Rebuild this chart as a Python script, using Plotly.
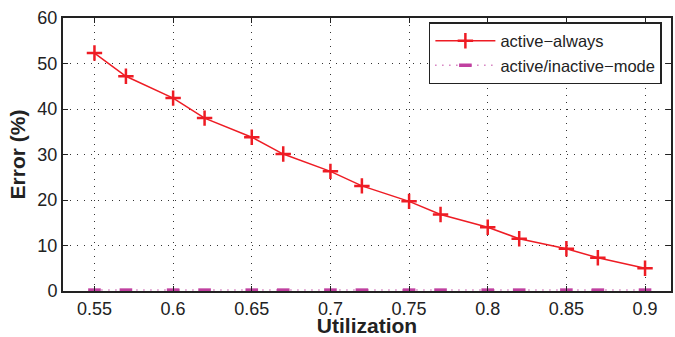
import plotly.graph_objects as go

utilization = [0.55, 0.57, 0.60, 0.62, 0.65, 0.67, 0.70, 0.72, 0.75, 0.77, 0.80, 0.82, 0.85, 0.87, 0.90]
active_always = [52.3, 47.2, 42.4, 38.0, 33.8, 30.1, 26.3, 23.1, 19.7, 16.8, 14.0, 11.5, 9.3, 7.3, 5.0]
active_inactive = [0.2, 0.2, 0.2, 0.2, 0.2, 0.2, 0.2, 0.2, 0.2, 0.2, 0.2, 0.2, 0.2, 0.2, 0.2]
x_ticks = [0.55, 0.6, 0.65, 0.7, 0.75, 0.8, 0.85, 0.9]
x_tick_labels = ["0.55", "0.6", "0.65", "0.7", "0.75", "0.8", "0.85", "0.9"]
y_ticks = [0, 10, 20, 30, 40, 50, 60]

fig = go.Figure()
fig.add_trace(go.Scatter(
    x=utilization, y=active_always, name="active\u2212always",
    mode="lines+markers",
    line=dict(color="#ee1c24", width=1.5),
    marker=dict(symbol="cross-thin", size=11, line=dict(color="#ee1c24", width=2.5)),
))
fig.add_trace(go.Scatter(
    x=utilization, y=active_inactive, name="active/inactive\u2212mode",
    mode="lines+markers",
    line=dict(color="#c040a0", width=1.5, dash="1px,6px"),
    marker=dict(symbol="line-ew", size=9, line=dict(color="#c040a0", width=3.5)),
))

font_family = "Liberation Sans, Arial, Helvetica, sans-serif"
axis_common = dict(
    showline=True, linecolor="#222", linewidth=2, mirror="ticks",
    ticks="inside", ticklen=5, tickcolor="#222", tickwidth=1,
    showgrid=True, gridcolor="#333", gridwidth=1, griddash="1px,6px",
    zeroline=False, automargin=False,
    tickfont=dict(family=font_family, size=18, color="#222"),
)
fig.update_xaxes(
    range=[0.53, 0.9165], tickvals=x_ticks, ticktext=x_tick_labels,
    title=dict(text="<b>Utilization</b>", font=dict(family=font_family, size=21, color="#222"), standoff=5),
    **axis_common,
)
fig.update_yaxes(
    range=[0, 60], tickvals=y_ticks,
    title=dict(text="<b>Error (%)</b>", font=dict(family=font_family, size=21, color="#222"), standoff=6),
    **axis_common,
)
fig.update_layout(
    width=675, height=337,
    margin=dict(l=63, r=4, t=18, b=46),
    plot_bgcolor="white", paper_bgcolor="white",
    font=dict(family=font_family, color="#222"),
    legend=dict(
        x=0.985, y=0.985, xanchor="right", yanchor="top",
        bgcolor="white", bordercolor="#222", borderwidth=1.5,
        font=dict(family=font_family, size=16.5, color="#222"),
        tracegroupgap=2, itemwidth=60,
    ),
)
fig.write_html(
    "out.html",
    config={"displayModeBar": False},
    post_script="document.body.style.margin='0';document.body.style.padding='0';",
)
